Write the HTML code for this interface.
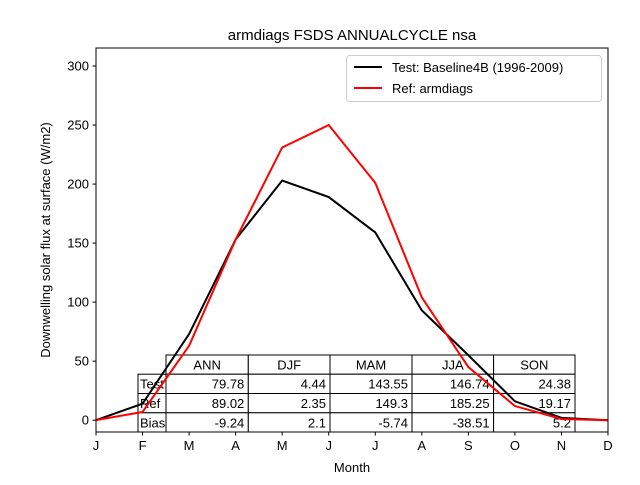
<!DOCTYPE html>
<html><head><meta charset="utf-8"><style>
body{margin:0;background:#fff}
text{font-family:"Liberation Sans","DejaVu Sans",sans-serif;fill:#000}
</style></head><body>
<svg id="c" width="640" height="480" xmlns="http://www.w3.org/2000/svg">
<rect width="640" height="480" fill="#fff"/>
<text x="352" y="40" font-size="15" text-anchor="middle">armdiags FSDS ANNUALCYCLE nsa</text>
<g id="table"></g>
<g id="lines"></g>
<g id="axes"></g>
<g id="legend">
<rect x="346.5" y="55.5" width="255" height="46" rx="3" fill="#fff" fill-opacity="0.8" stroke="#ccc"/>
<line x1="354" y1="67" x2="382" y2="67" stroke="#000" stroke-width="2"/>
<text x="392" y="72" font-size="13">Test: Baseline4B (1996-2009)</text>
<line x1="354" y1="88" x2="382" y2="88" stroke="#f00" stroke-width="2"/>
<text x="392" y="93" font-size="13">Ref: armdiags</text>
</g>
</svg>
<script>
const months=["J","F","M","A","M","J","J","A","S","O","N","D"];
const testVals=[0,14,73,153,203,189,159,93,55,16,2,0];
const refVals=[0,7,63,153,231,250,201,104,45,12,1,0];
const yTicks=[0,50,100,150,200,250,300];
const colHeaders=["ANN","DJF","MAM","JJA","SON"];
const rowLabels=["Test","Ref","Bias"];
const testStats=["79.78","4.44","143.55","146.74","24.38"];
const refStats=["89.02","2.35","149.3","185.25","19.17"];
const biasStats=["-9.24","2.1","-5.74","-38.51","5.2"];
const NS="http://www.w3.org/2000/svg";
const L=96,R=608,T=48,B=432,yMin=-10,yMax=315.25;
const xs=i=>L+i*(R-L)/11;
const ys=v=>B-(v-yMin)/(yMax-yMin)*(B-T);
function mk(tag,attrs,parent,txt){const e=document.createElementNS(NS,tag);for(const k in attrs)e.setAttribute(k,attrs[k]);if(txt!==undefined)e.textContent=txt;parent.appendChild(e);return e;}
const ax=document.getElementById('axes');
// table
const tb=document.getElementById('table');
const colX=[166,248.3,330,412,493.6,575],rowY=[355,374.2,393.5,412.8,432];
colHeaders.forEach((h,i)=>{
 const r=mk('rect',{x:colX[i],y:rowY[0],width:colX[i+1]-colX[i],height:rowY[1]-rowY[0],fill:'#fff',stroke:'#000'},tb);
 
 
 mk('text',{x:(colX[i]+colX[i+1])/2,y:rowY[0]+14.5,'font-size':13,'text-anchor':'middle'},tb,h);
});
const stats=[testStats,refStats,biasStats];
const clip=mk('clipPath',{id:'lc'},tb);mk('rect',{x:138,y:374,width:28,height:60},clip);
rowLabels.forEach((lab,r)=>{
 const y0=rowY[r+1],y1=rowY[r+2];
 const lc=mk('rect',{x:138,y:y0,width:28,height:y1-y0,fill:'#fff',stroke:'#000'},tb);
 
 
 mk('text',{x:140,y:y0+14.5,'font-size':13,'clip-path':'url(#lc)'},tb,lab);
 stats[r].forEach((v,i)=>{
  const c=mk('rect',{x:colX[i],y:y0,width:colX[i+1]-colX[i],height:y1-y0,fill:'#fff',stroke:'#000'},tb);
  
  
  mk('text',{x:colX[i+1]-4,y:y0+14.5,'font-size':13,'text-anchor':'end'},tb,v);
 });
});
// lines
const ln=document.getElementById('lines');
const clipA=mk('clipPath',{id:'ac'},ln);mk('rect',{x:L,y:T,width:R-L,height:B-T},clipA);
[[testVals,'#000','test-series-line'],[refVals,'#f00','ref-series-line']].forEach(([vals,col,nm])=>{
 const p=mk('polyline',{points:vals.map((v,i)=>xs(i)+','+ys(v)).join(' '),fill:'none',stroke:col,'stroke-width':2,'clip-path':'url(#ac)'},ln);
 
 
});
// axes
const fr=mk('rect',{x:L,y:T,width:R-L,height:B-T,fill:'none',stroke:'#000','stroke-width':1},ax);


yTicks.forEach(v=>{const y=ys(v);mk('line',{x1:L-3.5,x2:L,y1:y,y2:y,stroke:'#000'},ax);
 const t=mk('text',{x:L-7,y:y+4.5,'font-size':13,'text-anchor':'end'},ax,v);
 
 });
months.forEach((m,i)=>{const x=xs(i);mk('line',{x1:x,x2:x,y1:B,y2:B+3.5,stroke:'#000'},ax);
 const t=mk('text',{x:x,y:B+18,'font-size':13,'text-anchor':'middle'},ax,m);
 
 });
const xt=mk('text',{x:352,y:472,'font-size':13,'text-anchor':'middle'},ax,'Month');


const yt=mk('text',{x:0,y:0,'font-size':13,'text-anchor':'middle',transform:'translate(50,240) rotate(-90)'},ax,'Downwelling solar flux at surface (W/m2)');


</script>
</body></html>
